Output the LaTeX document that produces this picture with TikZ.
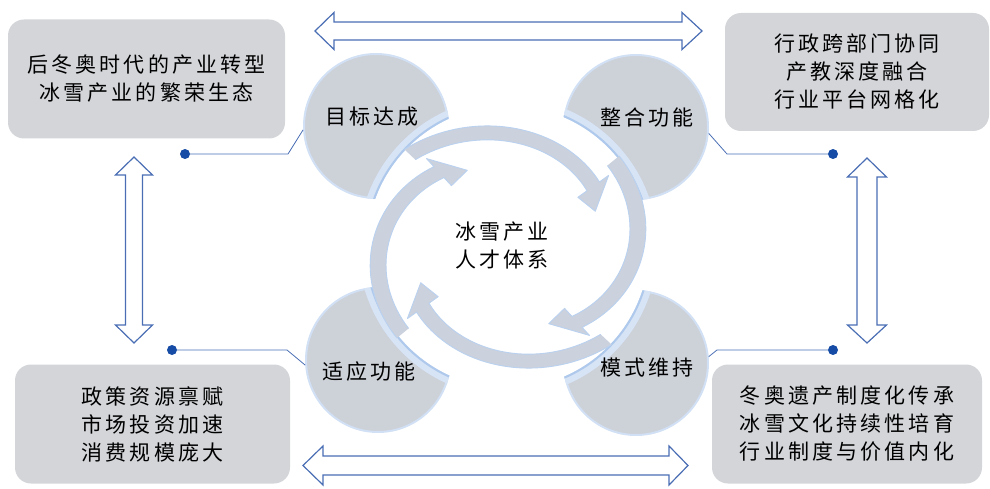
\documentclass[tikz,border=0pt]{standalone}
\usepackage{fontspec}
\setmainfont{Noto Sans CJK SC}[LetterSpace=15]
\definecolor{boxgray}{RGB}{211,213,217}
\definecolor{petalgray}{RGB}{205,209,216}
\definecolor{bandgray}{RGB}{203,210,221}
\definecolor{lineblue}{RGB}{74,110,180}
\definecolor{dotblue}{RGB}{22,76,165}
\definecolor{glowblue}{RGB}{140,178,228}
\begin{document}
\begin{tikzpicture}[x=1pt,y=-1pt,
 txt/.style={font=\fontsize{21}{28}\selectfont, align=center, text=black, inner sep=0pt},
 infobox/.style={txt, fill=boxgray, rounded corners=16pt},
 petal/.style={circle, fill=petalgray, draw=glowblue!40, line width=2pt, minimum size=144pt, inner sep=0pt},
 conn/.style={draw=lineblue, line width=0.8pt},
 dot/.style={circle, fill=dotblue, inner sep=0pt, minimum size=10pt},
 blockarrow/.style={draw=lineblue, line width=1.2pt, fill=white, line join=miter},
 bandfill/.style={fill=bandgray},
 bandedge/.style={draw=glowblue!60, line width=0.9pt, line join=round},
]
\useasboundingbox (0,0) rectangle (990,489);

% info boxes
\node[infobox, minimum width=277pt, minimum height=119pt] (b1) at (146.5,79) {后冬奥时代的产业转型\\冰雪产业的繁荣生态};
\node[infobox, minimum width=264pt, minimum height=118pt] (b2) at (857,72) {行政跨部门协同\\产教深度融合\\行业平台网格化};
\node[infobox, minimum width=275pt, minimum height=119pt] (b3) at (152.5,424) {政策资源禀赋\\市场投资加速\\消费规模庞大};
\node[infobox, minimum width=270pt, minimum height=119pt] (b4) at (847,424) {冬奥遗产制度化传承\\冰雪文化持续性培育\\行业制度与价值内化};

% petals
\node[petal] (p1) at (376,126) {};
\node[petal] (p2) at (636,127) {};
\node[petal] (p3) at (378,360) {};
\node[petal] (p4) at (636,363) {};

% glow of the white disk where it cuts the petals
\begin{scope}
\clip (p1.center) circle[radius=73] (p2.center) circle[radius=73] (p3.center) circle[radius=73] (p4.center) circle[radius=73];
\draw[glowblue!35, line width=9pt] (508,247) circle[radius=145];
\draw[glowblue!70, line width=2.5pt] (508,247) circle[radius=142];
\end{scope}
\fill[white] (508,247) circle[radius=141];

% circular arrows
\begin{scope}[shift={(508,247)}, xscale=1.07, yscale=0.94]
\foreach \T in {-25,65,155,245} {
  \pgfmathsetmacro{\ta}{\T-108}
  \pgfmathsetmacro{\tb}{\T-14}
  \fill[bandfill]
    plot[domain=\ta:\tb, samples=40, variable=\u] ({cos(\u)*(142-32*(\u-\ta)/94)}, {sin(\u)*(142-32*(\u-\ta)/94)})
    -- ({cos(\tb)*121},{sin(\tb)*121})
    -- ({cos(\T)*90},{sin(\T)*90})
    -- ({cos(\tb)*84},{sin(\tb)*84})
    -- plot[domain=\tb:\ta, samples=40, variable=\u] ({cos(\u)*(127-32*(\u-\ta)/94)}, {sin(\u)*(127-32*(\u-\ta)/94)})
    -- cycle;
  \draw[bandedge]
    plot[domain=\ta:\tb, samples=40, variable=\u] ({cos(\u)*(142-32*(\u-\ta)/94)}, {sin(\u)*(142-32*(\u-\ta)/94)})
    -- ({cos(\tb)*121},{sin(\tb)*121})
    -- ({cos(\T)*90},{sin(\T)*90})
    -- ({cos(\tb)*84},{sin(\tb)*84})
    -- plot[domain=\tb:\ta, samples=40, variable=\u] ({cos(\u)*(127-32*(\u-\ta)/94)}, {sin(\u)*(127-32*(\u-\ta)/94)});
}
\end{scope}

% labels
\node[txt] (l1) at (372,117) {目标达成};
\node[txt] (l2) at (647,117) {整合功能};
\node[txt] (l3) at (369,372) {适应功能};
\node[txt] (l4) at (647,368) {模式维持};
\node[txt] (core) at (502,245) {冰雪产业\\人才体系};

% connectors
\node[dot] (d1) at (185,154) {};
\node[dot] (d2) at (833,154) {};
\node[dot] (d3) at (172,350) {};
\node[dot] (d4) at (833,350) {};
\draw[conn] (d1) -- (288,154) -- (p1.183);
\draw[conn] (d2) -- (727,154) -- (p2.-5);
\draw[conn] (d3) -- (287,350) -- (p3.184);
\draw[conn] (d4) -- (717,350) -- (p4.5);

% block double arrows
\draw[blockarrow] (315,31) -- (334,12.5) -- (334,22) -- (682,22) -- (682,12.5) -- (702,31) -- (682,49.5) -- (682,40) -- (334,40) -- (334,49.5) -- cycle;
\draw[blockarrow] (303,465.5) -- (323,446) -- (323,456) -- (669,456) -- (669,446) -- (688,465.5) -- (669,485) -- (669,475) -- (323,475) -- (323,485) -- cycle;
\draw[blockarrow] (134,157) -- (152.5,175) -- (142.5,175) -- (142.5,325) -- (152.5,325) -- (134,343) -- (115.5,325) -- (125.5,325) -- (125.5,175) -- (115.5,175) -- cycle;
\draw[blockarrow] (867,158) -- (886.5,177) -- (877,177) -- (877,325) -- (886.5,325) -- (867,343) -- (847.5,325) -- (857,325) -- (857,177) -- (847.5,177) -- cycle;
\end{tikzpicture}
\end{document}
